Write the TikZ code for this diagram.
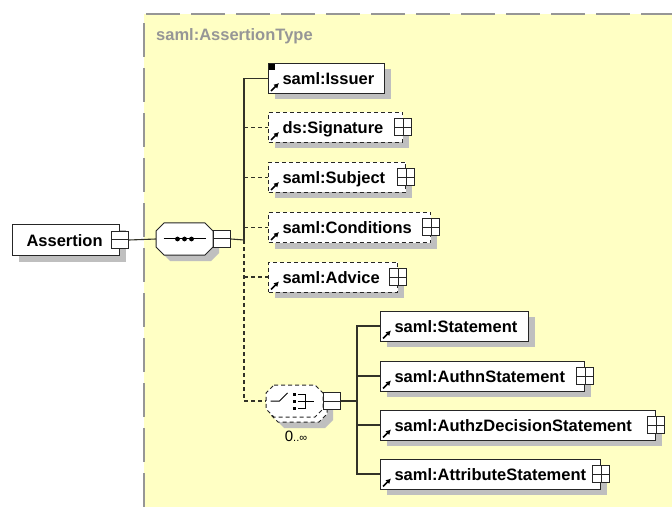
\documentclass[tikz,border=0pt]{standalone}
\usepackage{fontspec}
\setmainfont{Liberation Sans}
\usetikzlibrary{shadows,arrows.meta}
\definecolor{xsdyellow}{RGB}{255,255,196}
\definecolor{xsdgray}{RGB}{150,150,150}
\definecolor{xsdline}{RGB}{50,50,40}

\def\octagon#1{([xshift=8bp]#1.north west) -- ([xshift=-8bp]#1.north east) -- ([yshift=-8bp]#1.north east) -- ([yshift=8bp]#1.south east) -- ([xshift=-8bp]#1.south east) -- ([xshift=8bp]#1.south west) -- ([yshift=8bp]#1.south west) -- ([yshift=-8bp]#1.north west) -- cycle}

\begin{document}
\begin{tikzpicture}
[
	x=1bp, y=-1bp,
	shd/.style={drop shadow={shadow xshift=6bp, shadow yshift=-6bp, fill=black!25, opacity=1}},
	elem/.style={shd, draw=black!85, line width=1bp, fill=white, anchor=west, minimum height=30bp, inner xsep=14bp, inner ysep=0bp, align=left, text height=13bp, text depth=0bp, font=\fontsize{16.5bp}{19bp}\selectfont\bfseries},
	optelem/.style={elem, dash pattern=on 4bp off 3bp},
	expm/.style={draw=black!85, line width=1bp, fill=white, minimum size=17bp, inner sep=0bp, path picture={\draw[line width=1bp] (path picture bounding box.west) -- (path picture bounding box.east);}},
	expp/.style={expm, path picture={\draw[line width=1bp] (path picture bounding box.west) -- (path picture bounding box.east) (path picture bounding box.north) -- (path picture bounding box.south);}},
	cmpbox/.style={minimum width=57bp, minimum height=32bp, inner sep=0bp, outer sep=0bp},
	cmp/.style={draw=black!85, line width=1bp, fill=white},
	conn/.style={draw=xsdline, line width=1.1bp},
	optconn/.style={conn, dash pattern=on 4bp off 3bp},
	refarrow/.style={line width=1.7bp, -{Latex[length=5bp,width=5.5bp]}}
]
\useasboundingbox (0,0) rectangle (672,507);

% Draw type area
\fill[xsdyellow] (144,14) rectangle (672,507);
\draw[xsdgray, line width=1.5bp, dash pattern=on 34bp off 11bp] (144,507) -- (144,14) -- (672,14);
\node[anchor=base west, inner sep=0bp, text=xsdgray, font=\fontsize{16.5bp}{19bp}\selectfont\bfseries] (ttl) at (156,41) {saml:AssertionType};

% Global element
\node[elem, text width=79bp, minimum height=31bp] (asr) at (12,240) {Assertion};
\node[expm] (asrx) at (asr.east) {};

% Sequence compositor
\node[cmpbox] (seq) at (184.5,239) {};
\draw[cmp, shd] \octagon{seq};
\node[expm, anchor=west] (seqx) at (seq.east) {};
\draw[line width=1bp] ([xshift=-21bp]seq.center) -- ([xshift=21bp]seq.center);
\foreach \dx in {-7,0,7}
	\fill ([xshift=\dx bp]seq.center) circle (2.4bp);

\draw[conn] (asrx.east) -- (seq.west);
\coordinate (bus) at (244,240);
\draw[conn] (seqx.east) -- (bus);

% Child elements
\node[elem, text width=88bp] (iss) at (268,78.5) {saml:Issuer};
\node[optelem, text width=106bp] (sig) at (268,127.5) {ds:Signature};
\node[optelem, text width=109bp] (subj) at (268,177.5) {saml:Subject};
\node[optelem, text width=134bp] (cond) at (268,227.5) {saml:Conditions};
\node[optelem, text width=101bp] (adv) at (268,277) {saml:Advice};

% Choice compositor
\node[cmpbox] (chb) at (298.5,406) {};
\node[cmpbox] (ch) at (294.5,401) {};
\draw[cmp, shd, dash pattern=on 4bp off 3bp] \octagon{chb};
\draw[cmp, dash pattern=on 4bp off 3bp] \octagon{ch};
\node[expm, anchor=west] (chx) at (ch.east) {};
\begin{scope}[shift={(ch.center)}]
	\draw[line width=1bp] (-24,0) -- (-15,0) -- (-7,-8);
	\foreach \dy in {-7,0,7}
		\fill (-1.5,\dy-1.5) rectangle ++(3,3);
	\draw[line width=1bp] (3,-7) -- (11,-7) -- (11,7) -- (3,7) (3,0) -- (19,0);
\end{scope}
\node[anchor=base, inner sep=0bp, font=\fontsize{15bp}{17bp}\selectfont] (chocc) at (296,441) {0{\fontsize{11bp}{13bp}\selectfont..∞}};

% Statement elements
\node[elem, text width=120bp] (stm) at (380,326) {saml:Statement};
\node[elem, text width=176bp] (authn) at (380,376) {saml:AuthnStatement};
\node[elem, text width=247bp] (authz) at (380,425) {saml:AuthzDecisionStatement};
\node[elem, text width=192bp] (attr) at (380,474) {saml:AttributeStatement};

% Draw connectors
\draw[conn] (bus) |- (iss.west);
\foreach \n in {sig,subj,cond,adv}
	\draw[optconn] (bus |- \n.west) -- (\n.west);
\draw[optconn] (bus) |- (ch.west);
\coordinate (cbus) at ([xshift=16bp]chx.east);
\draw[conn] (chx.east) -- (cbus);
\foreach \n in {stm,authn,authz,attr}
	\draw[conn] (cbus) |- (\n.west);

% Reference icons and expanders
\foreach \n in {iss,sig,subj,cond,adv,stm,authn,authz,attr}
	\draw[refarrow] ([shift={(3,-3)}]\n.south west) -- ++(8,-8);
\fill ([shift={(1,1)}]iss.north west) rectangle ++(6,6);
\foreach \n in {sig,subj,cond,adv,authn,authz,attr}
	\node[expp] (\n-x) at (\n.east) {};

\end{tikzpicture}
\end{document}
